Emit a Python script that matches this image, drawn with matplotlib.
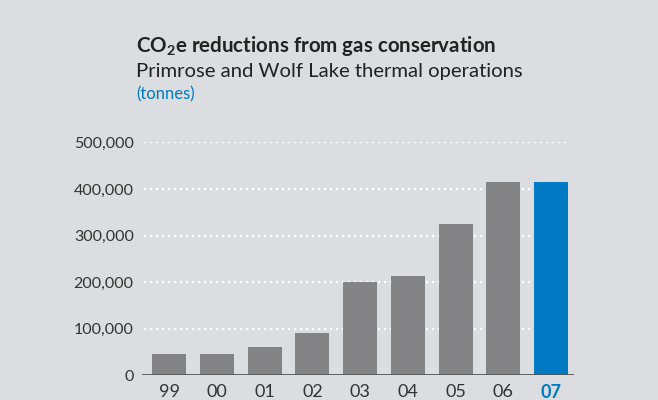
import matplotlib
matplotlib.use("Agg")
import matplotlib.pyplot as plt
from matplotlib.ticker import FuncFormatter

years = ["99", "00", "01", "02", "03", "04", "05", "06", "07"]
values = [46000, 46000, 60000, 90000, 200000, 214000, 324000, 414000, 414000]
yticks = [0, 100000, 200000, 300000, 400000, 500000]

BG = "#dcdde0"
GREY = "#838385"
BLUE = "#007ac2"
TXT = "#333333"

plt.rcParams['font.family'] = ['Lato', 'DejaVu Sans']
plt.rcParams['mathtext.fontset'] = 'custom'
plt.rcParams['mathtext.rm'] = 'Lato'
plt.rcParams['mathtext.bf'] = 'Lato:bold'

fig = plt.figure(figsize=(6.58, 4.0), dpi=100, facecolor=BG)
ax = fig.add_axes([0.2158, 0.0615, 0.8717 - 0.2158, 0.644 - 0.0615])
ax.set_facecolor(BG)

colors = [GREY] * (len(years) - 1) + [BLUE]
x = list(range(len(years)))
ax.bar(x, values, width=0.71, color=colors, zorder=3)

ax.set_xlim(-0.57, 8.47)
ax.set_ylim(0, 500000)
for t in yticks[1:]:
    ax.axhline(t, xmin=0.005, xmax=0.99, color="white", linestyle=(0, (1, 1.7)),
               linewidth=1.6, zorder=1)
ax.axhline(0, color="#555558", linewidth=2, zorder=4)

for s in ax.spines.values():
    s.set_visible(False)
ax.set_yticks(yticks)
ax.yaxis.set_major_formatter(FuncFormatter(lambda v, p: f"{int(v):,}"))
ax.set_xticks(x)
ax.set_xticklabels(years)
ax.tick_params(axis="y", length=0, labelsize=11.5, colors=TXT, pad=6)
ax.tick_params(axis="x", length=0, labelsize=13, colors=TXT, pad=6)
last = ax.get_xticklabels()[-1]
last.set_color(BLUE)
last.set_fontweight("bold")

fig.text(136 / 658, 1 - 52 / 400, r"CO$_\mathbf{2}$e reductions from gas conservation",
         fontsize=14.8, fontweight="bold", color="#222222", ha="left", va="baseline")
fig.text(136 / 658, 1 - 77 / 400, "Primrose and Wolf Lake thermal operations",
         fontsize=14.6, color="#222222", ha="left", va="baseline")
fig.text(136 / 658, 1 - 99 / 400, "(tonnes)",
         fontsize=12, color=BLUE, ha="left", va="baseline")

fig.savefig("out.png", dpi=100, facecolor=BG)
